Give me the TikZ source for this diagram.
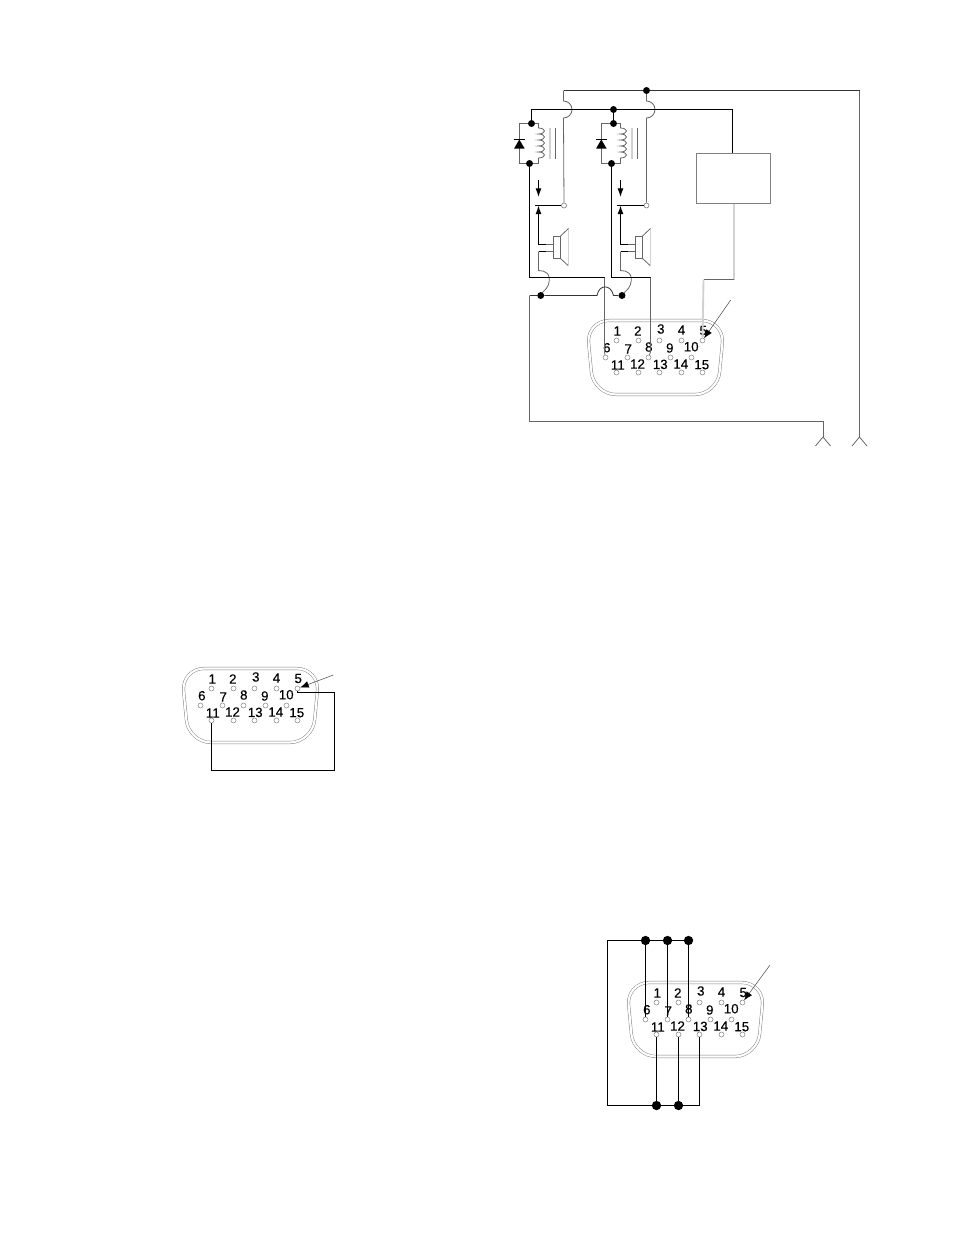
\documentclass[tikz,border=0pt]{standalone}
\usepackage{fontspec}
\setmainfont{Liberation Sans}
\newfontfamily\pinfont[FakeBold=0.25]{Liberation Sans}
\usetikzlibrary{arrows.meta}
\tikzset{
  wire/.style={line width=0.75pt,black},
  greywire/.style={line width=0.6pt,black!60},
  paleline/.style={line width=1.4pt,black!18},
  dot/.style={circle,fill=black,inner sep=0pt,minimum size=5.2pt},
  bigdot/.style={circle,fill=black,inner sep=0pt,minimum size=7pt},
  opendot/.style={circle,draw=black!55,fill=white,line width=0.4pt,inner sep=0pt,minimum size=3.8pt},
  pin/.style={circle,draw=black!50,line width=0.35pt,inner sep=0pt,minimum size=3.8pt},
  pinlabel/.style={inner sep=0pt,font=\pinfont\fontsize{10}{10}\selectfont},
  pointer/.style={line width=0.4pt,black!70,-{Latex[length=6.5pt,width=5pt,black]}},
  tip/.style={line width=0.75pt,-{Latex[length=6.5pt,width=4.5pt]}},
  vgaconn/.pic={
    \draw[black!50,line width=0.35pt,double,double distance=1.6pt,rounded corners=17pt]
      (-30,-20) -- (108,-20) -- (101,54) -- (-23,54) -- cycle;
    \foreach \n/\x/\y in {1/0/0,2/22/0,3/43/0,4/65/0,5/86/0,6/-11/17,7/11/17,8/32/17,9/54/17,10/75/17,
      11/0/32,12/22/32,13/43/32,14/65/32,15/86/32}
      \node[pin] (-\n) at (\x,\y) {};
    \foreach \n/\x/\y in {1/0.7/-9.5,2/21.3/-9.5,3/44.3/-11.5,4/65/-10.5,5/86.7/-10,6/-9.7/7.2,7/11.7/8.5,8/32.3/6.5,9/53.3/7.5,10/74.7/6.2,
      11/1.3/24.5,12/21/23.5,13/43.7/23.9,14/64.3/23.5,15/85.3/24.2}
      \node[pinlabel] (-l\n) at (\x,\y) {\n};
  },
  relaycell/.pic={
    % coil, diode and core; origin at the upper dot
    \node[dot] (-top) at (0,0) {};
    \node[dot] (-bot) at (-2,40) {};
    \draw[greywire] (-top) -| (-12.5,40) -- (-bot);
    \draw[greywire] (-top) -- (7,0) -- (7,4.5)
      arc[start angle=-90,end angle=90,x radius=6,y radius=3]
      arc[start angle=-90,end angle=90,x radius=6,y radius=3]
      arc[start angle=-90,end angle=90,x radius=6,y radius=3]
      arc[start angle=-90,end angle=90,x radius=6,y radius=3]
      arc[start angle=-90,end angle=90,x radius=6,y radius=3] -- (7,40) -- (-bot);
    \draw[paleline] (18.5,4) -- (18.5,35.4);
    \draw[greywire] (24,4) -- (24,35.4);
    \draw[line width=0.6pt] (-17.5,16) -- (-6.8,16);
    \fill (-12.2,16) -- (-17.5,25.2) -- (-6.8,25.2) -- cycle;
    % contact and horn
    \draw[tip] (7,56.5) -- (7,73.5);
    \coordinate (-arm) at (7,82);
    \coordinate (-turn) at (14.5,121);
    \draw[tip] (-turn) -| (-arm);
    \draw[wire] (3.5,82) -- (-arm);
    \draw[greywire] (-turn) -- (22,121);
    \draw[greywire] (7,128) -- (22,128);
    \draw[wire] (7,128) -- (14.5,128);
    \draw[greywire] (22,112.5) rectangle (29,135);
    \draw[greywire] (29,112.5) -- (37,105);
    \draw[greywire] (29,135) -- (37,142.4);
    \draw[paleline] (37,105) -- (37,142.4);
    \draw[greywire] (7,128) -- (7,147)
      .. controls (14,147) and (20,150) .. (17,161)
      .. controls (15,167) and (10,168) .. (9.2,172);
  },
}
\begin{document}
\begin{tikzpicture}[x=0.75pt,y=-0.75pt]
\useasboundingbox (0,0) rectangle (954,1235);
% connectors
\pic (ca) at (616.5,340.5) {vgaconn};
\pic (cb) at (211.5,688.5) {vgaconn};
\pic (cc) at (656.5,1002.5) {vgaconn};
% relays
\pic (ra) at (531.5,123.5) {relaycell};
\pic (rb) at (613.5,123.5) {relaycell};
% upper rails
\node[dot] (feed) at (646.5,90.5) {};
\node[dot] (tap) at (613.5,109.5) {};
\node[opendot] (ca1) at (564,205.5) {};
\node[opendot] (cb1) at (646.5,205.5) {};
\node[draw=black!50,line width=0.6pt,minimum width=55.5pt,minimum height=37.5pt,inner sep=0pt] (box) at (733.3,178.3) {};
\draw[wire] (ca1) -- (ra-arm);
\draw[wire] (cb1) -- (rb-arm);
\coordinate (h1) at (563.5,90.5);
\coordinate (h2) at (859.5,90.5);
\coordinate (anta) at (823,437);
\coordinate (antb) at (859.5,437);
\coordinate (boxin) at (732.5,153);
\coordinate (boxout) at (734,203.5);
\draw[greywire] (h2) -- (antb);
\draw[line width=0.75pt,black!80] (h1) -- (feed) -- (h2);
\draw[greywire] (h1) -- (563.5,101)
  arc[start angle=-90,end angle=90,radius=8.5] -- (ca1);
\draw[greywire] (feed) -- (646.5,101)
  arc[start angle=-90,end angle=90,radius=8.5] -- (cb1);
\draw[wire] (ra-top) |- (tap) -- (rb-top);
\draw[wire] (tap) -| (boxin);
% coil wires to pins
\coordinate (ba) at (604.5,277.5);
\coordinate (bb) at (650.5,277.5);
\coordinate (bc) at (734,279.5);
\coordinate (bd) at (703.5,279.5);
\draw[wire] (ra-bot) |- (ba);
\draw[greywire] (ba) -- (604.5,352) -- (ca-6);
\draw[wire] (rb-bot) |- (bb);
\draw[greywire] (bb) -- (650.5,352) -- (ca-8);
\draw[paleline] (boxout) -- (bc);
\draw[greywire] (bc) -- (bd);
\draw[paleline] (bd) -- (ca-5);
% lower rail
\node[dot] (ga) at (540.7,295.5) {};
\node[dot] (gb) at (622,295.5) {};
\coordinate (gl) at (529.5,295.5);
\coordinate (gr) at (597,295.5);
\coordinate (gs) at (613.5,295.5);
\coordinate (gn) at (529.5,421.5);
\coordinate (gm) at (823,421.5);
\draw[line width=0.6pt,black!80] (gl) -- (ga) -- (gr)
  .. controls (599,284) and (611,284) .. (gs) -- (gb);
\draw[greywire] (gl) -- (gn) -- (gm) -- (anta);
\draw[greywire] (anta) -- ++(-7.5,9);
\draw[greywire] (anta) -- ++(7.5,9);
\draw[greywire] (antb) -- ++(-7.5,9);
\draw[greywire] (antb) -- ++(7.5,9);
% pointers
\coordinate (pa) at (730.7,300);
\coordinate (pb) at (333.3,675);
\coordinate (pc) at (770,965);
\draw[pointer] (pa) -- (ca-5);
\draw[pointer] (pb) -- (cb-5);
\draw[pointer] (pc) -- (cc-5);
% loop on second connector
\coordinate (lb1) at (334.5,692.5);
\coordinate (lb2) at (334.5,770.5);
\draw[wire] (cb-5.south) |- (lb1) -- (lb2) -| (cb-11);
% jumpers on third connector
\coordinate (jl) at (607.5,940.5);
\coordinate (jm) at (607.5,1105.5);
\node[bigdot] (ja) at (cc-6 |- jl) {};
\node[bigdot] (jb) at (cc-7 |- jl) {};
\node[bigdot] (jc) at (cc-8 |- jl) {};
\node[bigdot] (jd) at (cc-11 |- jm) {};
\node[bigdot] (je) at (cc-12 |- jm) {};
\coordinate (jn) at (cc-13 |- jm);
\draw[wire] (jc) -- (jl) -- (jm) -- (jn) -- (cc-13);
\draw[wire] (ja) -- (cc-6);
\draw[wire] (jb) -- (cc-7);
\draw[wire] (jc) -- (cc-8);
\draw[wire] (jd) -- (cc-11);
\draw[wire] (je) -- (cc-12);
\end{tikzpicture}
\end{document}
